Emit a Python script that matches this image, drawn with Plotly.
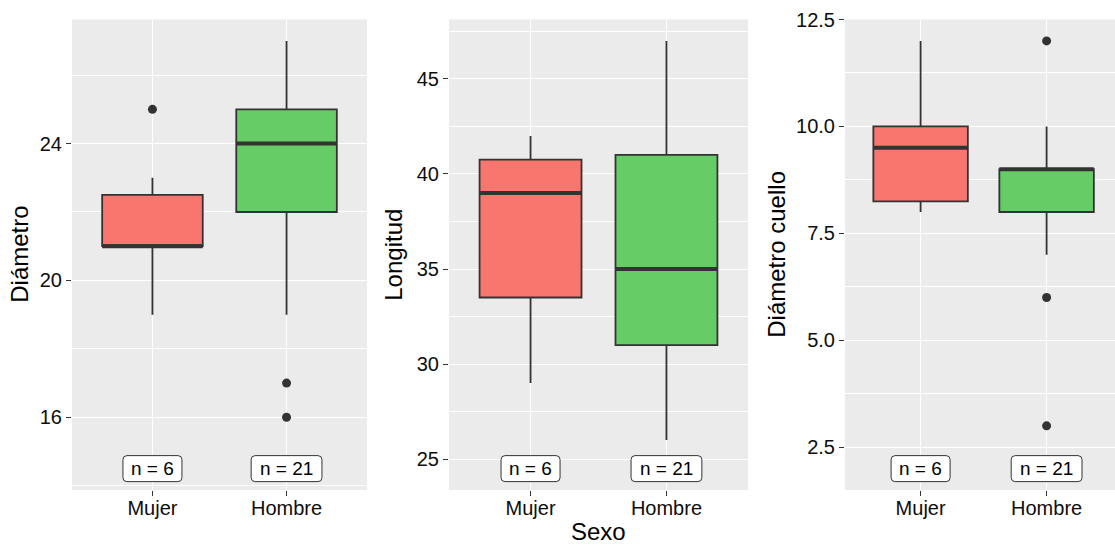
import plotly.graph_objects as go

# Categorías y tamaños de muestra
categorias = ["Mujer", "Hombre"]
n_muestra = [6, 21]

# Diámetro
diam_q1 = [21.0, 22.0]
diam_mediana = [21.0, 24.0]
diam_q3 = [22.5, 25.0]
diam_bigote_inf = [19.0, 19.0]
diam_bigote_sup = [23.0, 27.0]
diam_atipicos = [[25.0], [17.0, 16.0]]

# Longitud
long_q1 = [33.5, 31.0]
long_mediana = [39.0, 35.0]
long_q3 = [40.75, 41.0]
long_bigote_inf = [29.0, 26.0]
long_bigote_sup = [42.0, 47.0]
long_atipicos = [[], []]

# Diámetro cuello
cuello_q1 = [8.25, 8.0]
cuello_mediana = [9.5, 9.0]
cuello_q3 = [10.0, 9.0]
cuello_bigote_inf = [8.0, 7.0]
cuello_bigote_sup = [12.0, 10.0]
cuello_atipicos = [[], [12.0, 6.0, 3.0]]

# Altura de la etiqueta "n = ..." en cada panel
etiqueta_y = [14.5, 24.5, 2.0]

colores = ["#F8766D", "#66CC66"]
BORDE = "#333333"
TEXTO = "#0d0d0d"
FUENTE = "Liberation Sans, Arial, sans-serif"
W, H = 1115, 545
Y_TOP, Y_BOT = 19.5, 490.0  # borde superior / inferior del área de trazado (px)

paneles = [
    dict(titulo="Diámetro", q1=diam_q1, med=diam_mediana, q3=diam_q3,
         lo=diam_bigote_inf, hi=diam_bigote_sup, out=diam_atipicos,
         dtick=4, fmt="d", px=(72, 367), xmax=2.6, tx=20),
    dict(titulo="Longitud", q1=long_q1, med=long_mediana, q3=long_q3,
         lo=long_bigote_inf, hi=long_bigote_sup, out=long_atipicos,
         dtick=5, fmt="d", px=(449, 748), xmax=2.6, tx=394),
    dict(titulo="Diámetro cuello", q1=cuello_q1, med=cuello_mediana, q3=cuello_q3,
         lo=cuello_bigote_inf, hi=cuello_bigote_sup, out=cuello_atipicos,
         dtick=2.5, fmt=".1f", px=(845, 1115), xmax=0.4 + 270 / 126, tx=777),
]

ANCHO_CAJA = 0.75
y_dom = [1 - Y_BOT / H, 1 - Y_TOP / H]


def rect_redondeado(cx, cy, w_px, h_px, r_px, sx, sy):
    """Ruta SVG de un rectángulo con esquinas redondeadas, en unidades de datos."""
    hw, hh = w_px / 2 / sx, h_px / 2 / sy
    rx, ry = r_px / sx, r_px / sy
    x0, x1, y0, y1 = cx - hw, cx + hw, cy - hh, cy + hh
    return (f"M{x0 + rx},{y0} L{x1 - rx},{y0} Q{x1},{y0} {x1},{y0 + ry} "
            f"L{x1},{y1 - ry} Q{x1},{y1} {x1 - rx},{y1} L{x0 + rx},{y1} "
            f"Q{x0},{y1} {x0},{y1 - ry} L{x0},{y0 + ry} Q{x0},{y0} {x0 + rx},{y0} Z")


fig = go.Figure()
layout = dict(
    width=W, height=H, margin=dict(l=0, r=0, t=0, b=0, autoexpand=False),
    paper_bgcolor="white", plot_bgcolor="#EBEBEB",
    showlegend=False, font=dict(family=FUENTE, color=TEXTO),
)
anotaciones = []
formas = []

for k, p in enumerate(paneles):
    sfx = "" if k == 0 else str(k + 1)
    xa, ya = "x" + sfx, "y" + sfx
    posiciones = [i + 1 for i in range(len(categorias))]

    lo_d = etiqueta_y[k]
    hi_d = max(max(p["hi"]), max((max(o) for o in p["out"] if o), default=lo_d))
    ext = 0.05 * (hi_d - lo_d)
    y_rango = [lo_d - ext, hi_d + ext]
    x_rango = [0.4, p["xmax"]]
    sx = (p["px"][1] - p["px"][0]) / (x_rango[1] - x_rango[0])
    sy = (Y_BOT - Y_TOP) / (y_rango[1] - y_rango[0])

    for i, pos in enumerate(posiciones):
        fig.add_trace(go.Box(
            x=[pos], q1=[p["q1"][i]], median=[p["med"][i]], q3=[p["q3"][i]],
            lowerfence=[p["lo"][i]], upperfence=[p["hi"][i]],
            fillcolor=colores[i], line=dict(color=BORDE, width=1.8),
            whiskerwidth=0, width=ANCHO_CAJA, boxpoints=False,
            hoverinfo="skip", xaxis=xa, yaxis=ya,
        ))
        # mediana más gruesa
        fig.add_trace(go.Scatter(
            x=[pos - ANCHO_CAJA / 2, pos + ANCHO_CAJA / 2],
            y=[p["med"][i], p["med"][i]], mode="lines",
            line=dict(color=BORDE, width=4), hoverinfo="skip",
            xaxis=xa, yaxis=ya,
        ))
        if p["out"][i]:
            fig.add_trace(go.Scatter(
                x=[pos] * len(p["out"][i]), y=p["out"][i], mode="markers",
                marker=dict(color=BORDE, size=9), hoverinfo="skip",
                xaxis=xa, yaxis=ya,
            ))
        # etiqueta con el tamaño de muestra
        texto = f"n = {n_muestra[i]}"
        ancho = 11.8 * len(texto)
        formas.append(dict(
            type="path", xref=xa, yref=ya, layer="above",
            path=rect_redondeado(pos, etiqueta_y[k], ancho, 26, 4, sx, sy),
            fillcolor="white", line=dict(color=BORDE, width=1),
        ))
        anotaciones.append(dict(
            x=pos, y=etiqueta_y[k], xref=xa, yref=ya, showarrow=False,
            xanchor="center", yanchor="middle", text=texto,
            font=dict(size=19, color="black", family=FUENTE),
        ))

    layout["xaxis" + sfx] = dict(
        domain=[p["px"][0] / W, p["px"][1] / W], anchor=ya,
        range=x_rango, tickmode="array", tickvals=posiciones,
        ticktext=categorias, showgrid=True, gridcolor="white", gridwidth=1.4,
        zeroline=False, showline=False, ticks="outside", ticklen=5,
        tickwidth=1.2, tickcolor=BORDE, tickfont=dict(size=20, color=TEXTO),
        ticklabelstandoff=-5, automargin=False, fixedrange=True,
    )
    layout["yaxis" + sfx] = dict(
        domain=y_dom, anchor=xa, range=y_rango,
        tick0=0, dtick=p["dtick"], tickformat=p["fmt"],
        showgrid=True, gridcolor="white", gridwidth=1.4,
        minor=dict(dtick=p["dtick"] / 2, tick0=0, showgrid=True,
                   gridcolor="white", gridwidth=0.7, ticks=""),
        zeroline=False, showline=False, ticks="outside", ticklen=5,
        tickwidth=1.2, tickcolor=BORDE, tickfont=dict(size=20, color=TEXTO),
        ticklabelstandoff=0, automargin=False, fixedrange=True,
    )
    # título del eje Y
    anotaciones.append(dict(
        x=p["tx"] / W, y=(y_dom[0] + y_dom[1]) / 2, xref="paper", yref="paper",
        xanchor="center", yanchor="middle",
        text=p["titulo"], textangle=-90, showarrow=False,
        font=dict(size=24, color="black", family=FUENTE),
    ))

# título del eje X compartido
anotaciones.append(dict(
    x=(449 + 748) / 2 / W, y=1 - 531 / H, xref="paper", yref="paper",
    xanchor="center", yanchor="middle",
    text="Sexo", showarrow=False, font=dict(size=24, color="black", family=FUENTE),
))

layout["annotations"] = anotaciones
layout["shapes"] = formas
fig.update_layout(**layout)
fig.write_html("out.html")
